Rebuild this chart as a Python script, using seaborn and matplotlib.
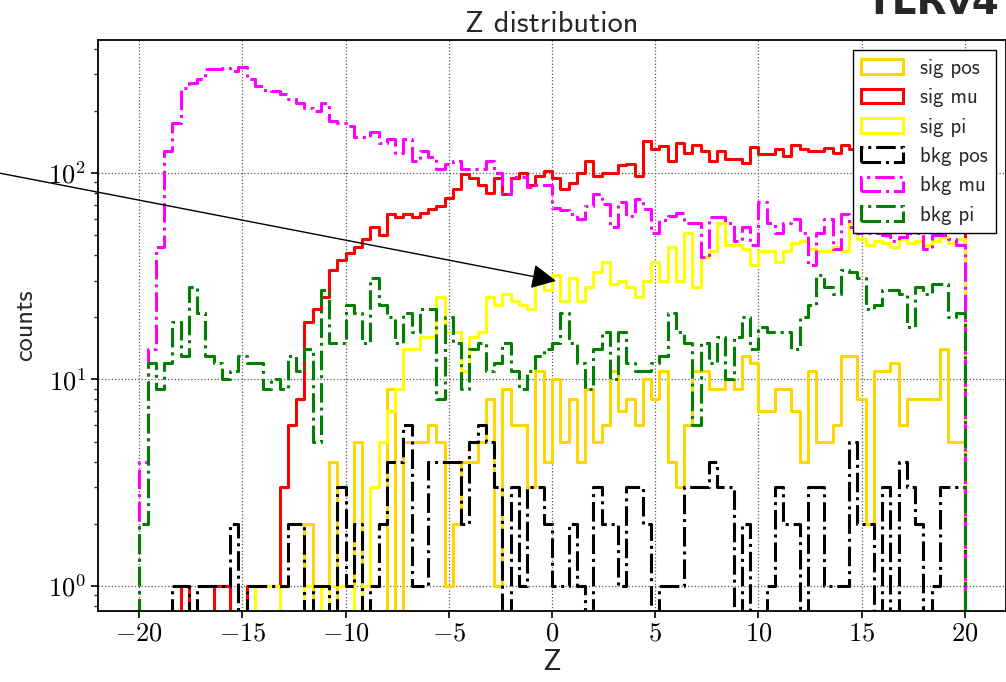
import numpy as np
import pandas as pd
import matplotlib
matplotlib.use("Agg")
import matplotlib.pyplot as plt
import seaborn as sns
from matplotlib.patches import Patch
from matplotlib.ticker import FixedLocator, FuncFormatter, LogLocator, NullFormatter

# 100 bins of width 0.4 between -20 and 20
edges = np.linspace(-20, 20, 101)
centers = (edges[:-1] + edges[1:]) / 2

sig_pos = [0, 0, 0, 0, 0, 0, 0, 0, 0, 0,
           0, 0, 0, 0, 0, 0, 0, 0, 0, 0,
           2, 0, 1, 4, 0, 0, 5, 0, 0, 0,
           9, 0, 5, 5, 5, 6, 5, 1, 2, 4,
           4, 5, 8, 1, 9, 6, 6, 3, 11, 4,
           10, 5, 8, 4, 9, 5, 6, 11, 7, 8,
           6, 10, 8, 11, 4, 3, 6, 11, 11, 9,
           9, 10, 9, 13, 12, 7, 7, 9, 9, 7,
           4, 11, 5, 5, 6, 13, 13, 8, 2, 11,
           11, 12, 6, 8, 8, 8, 8, 14, 5, 5]

sig_mu = [0, 0, 0, 0, 0, 1, 0, 0, 0, 1,
          1, 0, 0, 1, 1, 1, 1, 3, 6, 8,
          19, 22, 25, 34, 38, 41, 44, 48, 55, 50,
          63, 61, 63, 61, 64, 67, 69, 76, 84, 99,
          94, 87, 80, 95, 79, 95, 100, 87, 97, 102,
          94, 84, 89, 100, 114, 97, 100, 100, 109, 111,
          97, 143, 130, 135, 114, 140, 125, 137, 128, 114,
          128, 117, 117, 112, 134, 124, 124, 130, 121, 137,
          130, 128, 128, 132, 125, 137, 130, 130, 128, 135,
          125, 140, 130, 122, 135, 128, 132, 126, 138, 130]

sig_pi = [0, 0, 0, 0, 0, 0, 0, 0, 0, 0,
          0, 0, 0, 0, 1, 1, 1, 0, 0, 0,
          1, 1, 0, 1, 1, 1, 0, 1, 3, 5,
          7, 9, 14, 14, 16, 16, 25, 17, 17, 11,
          16, 17, 25, 23, 26, 24, 23, 22, 30, 27,
          32, 24, 31, 24, 28, 33, 37, 29, 30, 28,
          25, 30, 37, 30, 44, 30, 51, 28, 39, 42,
          57, 45, 45, 43, 36, 42, 42, 37, 42, 46,
          47, 43, 42, 42, 44, 42, 57, 48, 45, 47,
          46, 44, 48, 46, 47, 45, 47, 49, 46, 48]

bkg_pos = [0, 0, 0, 0, 1, 1, 0, 1, 1, 1,
           1, 2, 0, 1, 1, 1, 1, 1, 2, 2,
           0, 1, 1, 0, 3, 1, 2, 0, 1, 2,
           4, 4, 6, 1, 1, 4, 4, 4, 4, 2,
           5, 6, 5, 3, 0, 3, 1, 3, 3, 2,
           1, 1, 2, 1, 0, 3, 2, 2, 1, 3,
           3, 2, 0, 1, 1, 1, 3, 3, 3, 4,
           3, 3, 0, 2, 0, 0, 1, 3, 2, 2,
           0, 3, 3, 1, 1, 1, 5, 2, 2, 0,
           3, 0, 4, 3, 2, 0, 1, 3, 3, 3]

bkg_mu = [4, 14, 44, 128, 174, 257, 273, 285, 317, 317,
          322, 310, 325, 285, 263, 253, 248, 240, 227, 218,
          207, 200, 218, 178, 175, 168, 149, 149, 157, 140,
          146, 125, 146, 114, 128, 120, 105, 110, 114, 105,
          105, 105, 114, 100, 79, 96, 96, 85, 87, 87,
          68, 66, 63, 60, 69, 79, 71, 55, 72, 62,
          75, 67, 51, 59, 62, 64, 57, 57, 39, 61,
          61, 57, 47, 55, 45, 72, 57, 51, 57, 60,
          51, 36, 51, 60, 43, 63, 55, 51, 51, 51,
          50, 47, 49, 51, 51, 43, 50, 50, 48, 45]

bkg_pi = [2, 12, 9, 12, 19, 13, 28, 21, 13, 12,
          10, 11, 13, 12, 12, 9, 10, 9, 13, 11,
          14, 5, 27, 15, 15, 23, 21, 15, 31, 23,
          20, 15, 21, 17, 22, 22, 8, 20, 15, 9,
          14, 15, 11, 12, 15, 11, 9, 11, 13, 14,
          15, 21, 15, 12, 9, 14, 17, 10, 17, 12,
          11, 11, 12, 13, 21, 17, 15, 6, 15, 12,
          16, 10, 16, 20, 14, 18, 17, 17, 17, 14,
          20, 23, 32, 28, 26, 34, 33, 31, 22, 23,
          27, 27, 26, 18, 28, 26, 29, 29, 20, 21]

labels = ["sig pos", "sig mu", "sig pi", "bkg pos", "bkg mu", "bkg pi"]
colors = ["#FFD700", "red", "yellow", "black", "magenta", "green"]
styles = ["-", "-", "-", "-.", "-.", "-."]
data = [sig_pos, sig_mu, sig_pi, bkg_pos, bkg_mu, bkg_pi]

sns.set_style("ticks")
plt.rcParams["font.family"] = ["cmss10", "DejaVu Sans"]
plt.rcParams["mathtext.fontset"] = "cm"
plt.rcParams["axes.unicode_minus"] = False

fig = plt.figure(figsize=(10.06, 6.82), dpi=100)
ax = fig.add_axes([98 / 1006, 71 / 682, 908 / 1006, 571 / 682])
ax.set_yscale("log")

# one empty bin on each side so the outline drops to the floor at +-20
plot_edges = [-20.4] + list(edges) + [20.4]

for counts, color, ls in zip(data, colors, styles):
    df = pd.DataFrame({"z": centers, "n": counts})
    sns.histplot(data=df, x="z", weights="n", bins=plot_edges, element="step",
                 fill=False, color=color, linestyle=ls, linewidth=2.2, ax=ax)

ax.set_xlim(-22, 22)
ax.set_ylim(0.757, 440)

ax.set_xticks(np.arange(-20, 21, 5))
ax.xaxis.set_major_formatter(FuncFormatter(lambda v, p: r"$%d$" % v))
ax.yaxis.set_major_locator(FixedLocator([1, 10, 100]))
ax.yaxis.set_major_formatter(FuncFormatter(lambda v, p: r"$10^{%d}$" % round(np.log10(v))))
ax.yaxis.set_minor_locator(LogLocator(base=10, subs=np.arange(2, 10)))
ax.yaxis.set_minor_formatter(NullFormatter())
ax.tick_params(labelsize=19, colors="black")
ax.tick_params(which="major", length=5, width=1.2)
ax.tick_params(which="minor", length=3, width=1.0)

ax.grid(True, which="major", linestyle=":", color="0.35", linewidth=0.9)
for s in ax.spines.values():
    s.set_color("black")
    s.set_linewidth(1.3)

ax.set_title("Z distribution", fontsize=22, pad=6)
ax.set_xlabel("Z", fontsize=22, labelpad=2)
ax.set_ylabel("counts", fontsize=19, labelpad=8)

handles = [Patch(facecolor="none", edgecolor=c, linestyle=ls, linewidth=2.2, label=n)
           for n, c, ls in zip(labels, colors, styles)]
ax.legend(handles=handles, loc="upper right", fontsize=15, fancybox=False,
          edgecolor="black", framealpha=1)

ax.annotate("", xy=(0.2, 30), xytext=(-27.7, 104),
            arrowprops=dict(arrowstyle="-|>", color="black", lw=1.0,
                            mutation_scale=38, shrinkA=0, shrinkB=0),
            annotation_clip=False)

fig.text(0.994, 1 - 14 / 682, "TLRv4", ha="right", va="baseline",
         fontsize=28, fontweight="bold", family="DejaVu Sans")

fig.savefig("out.png", dpi=100)
